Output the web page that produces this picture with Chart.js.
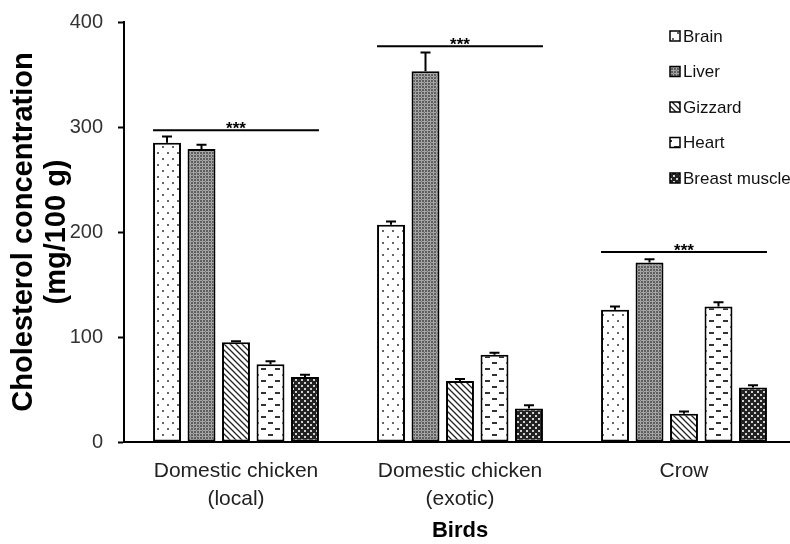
<!DOCTYPE html>
<html>
<head>
<meta charset="utf-8">
<script src="https://cdn.jsdelivr.net/npm/chart.js@4"></script>
<style>
  html, body { margin: 0; padding: 0; background: #fff; overflow: hidden; }
  /* plot runs a few px past the right edge, as in the figure */
  #wrap { width: 796px; height: 544px; }
</style>
</head>
<body>
<div id="wrap"><canvas id="chol"></canvas></div>
<script>
/* data */
const birds = [['Domestic chicken', '(local)'], ['Domestic chicken', '(exotic)'], 'Crow'];
const organs = ['Brain', 'Liver', 'Gizzard', 'Heart', 'Breast muscle'];

const brain = [285, 207, 126];
const liver = [279, 353, 171];
const gizzard = [95, 58, 27];
const heart = [74, 83, 129];
const breastMuscle = [62, 32, 52];

const brainErr = [6, 3, 3];
const liverErr = [4, 18, 3];
const gizzardErr = [1, 2, 2];
const heartErr = [3, 2, 4];
const breastMuscleErr = [2, 3, 2];

const sigLevels = [297, 377, 181];
const sigLabel = '***';
const yTicks = [0, 100, 200, 300, 400];

const FONT = '"Liberation Sans", Arial, sans-serif';

// little tiles for the black & white fills
function makeTile(w, h, paint) {
    const c = document.createElement('canvas');
    c.width = w;
    c.height = h;
    const g = c.getContext('2d');
    paint(g);
    return document.createElement('canvas').getContext('2d').createPattern(c, 'repeat');
}

const patterns = [
    // brain: white, sparse grey dots
    makeTile(10, 12, g => {
        g.fillStyle = '#fff'; g.fillRect(0, 0, 10, 12);
        g.fillStyle = '#666';
        g.fillRect(2, 2, 2, 2);
        g.fillRect(7, 8, 2, 2);
    }),
    // liver: grey plaid
    makeTile(6, 6, g => {
        g.fillStyle = '#5e5e5e'; g.fillRect(0, 0, 6, 6);
        g.fillStyle = '#a6a6a6';
        g.fillRect(0, 1, 6, 1);
        g.fillRect(0, 4, 6, 1);
        g.fillRect(1, 0, 1, 6);
        g.fillRect(4, 0, 1, 6);
        g.fillStyle = '#7c7c7c';
        g.fillRect(1, 1, 1, 1);
        g.fillRect(4, 4, 1, 1);
    }),
    // gizzard: diagonal hatching
    makeTile(6, 6, g => {
        g.fillStyle = '#fff'; g.fillRect(0, 0, 6, 6);
        g.strokeStyle = '#222';
        g.lineWidth = 1.3;
        g.beginPath();
        g.moveTo(-1, -1); g.lineTo(7, 7);
        g.moveTo(-4, 2); g.lineTo(4, 10);
        g.moveTo(2, -4); g.lineTo(10, 4);
        g.stroke();
    }),
    // heart: white with short dashes
    makeTile(14, 12, g => {
        g.fillStyle = '#fff'; g.fillRect(0, 0, 14, 12);
        g.fillStyle = '#333';
        g.fillRect(2, 2, 5, 2);
        g.fillRect(9, 8, 5, 2);
    }),
    // breast muscle: dark with light dots
    makeTile(6, 6, g => {
        g.fillStyle = '#222'; g.fillRect(0, 0, 6, 6);
        g.fillStyle = '#d0d0d0';
        g.fillRect(1, 1, 2, 2);
        g.fillRect(4, 4, 2, 2);
    })
];

const values = [brain, liver, gizzard, heart, breastMuscle];
const errors = [brainErr, liverErr, gizzardErr, heartErr, breastMuscleErr];

// positive error bars only
const errorBars = {
    id: 'errorBars',
    afterDatasetsDraw(chart) {
        const {ctx, scales: {y}} = chart;
        ctx.save();
        ctx.strokeStyle = '#000';
        ctx.lineWidth = 2;
        chart.data.datasets.forEach((ds, di) => {
            const meta = chart.getDatasetMeta(di);
            meta.data.forEach((bar, i) => {
                const top = y.getPixelForValue(ds.data[i] + errors[di][i]);
                ctx.beginPath();
                ctx.moveTo(bar.x, bar.y);
                ctx.lineTo(bar.x, top);
                ctx.moveTo(bar.x - 5, top);
                ctx.lineTo(bar.x + 5, top);
                ctx.stroke();
            });
        });
        ctx.restore();
    }
};

// significance lines over each group + legend inside the plot
const extras = {
    id: 'extras',
    afterDraw(chart) {
        const {ctx, scales: {y}} = chart;
        const first = chart.getDatasetMeta(0).data;
        const last = chart.getDatasetMeta(organs.length - 1).data;
        ctx.save();
        ctx.strokeStyle = '#000';
        ctx.lineWidth = 2;
        ctx.fillStyle = '#000';
        ctx.font = 'bold 17px ' + FONT;
        ctx.textAlign = 'center';
        ctx.textBaseline = 'alphabetic';
        sigLevels.forEach((lvl, i) => {
            const x0 = first[i].x - first[i].width / 2;
            const x1 = last[i].x + last[i].width / 2;
            const py = y.getPixelForValue(lvl);
            ctx.beginPath();
            ctx.moveTo(x0, py);
            ctx.lineTo(x1, py);
            ctx.stroke();
            ctx.fillText(sigLabel, (x0 + x1) / 2, py + 4);
        });

        // legend
        ctx.font = '17px ' + FONT;
        ctx.textAlign = 'left';
        ctx.textBaseline = 'middle';
        ctx.lineWidth = 1.5;
        organs.forEach((name, i) => {
            const cy = 36 + i * 35.5;
            ctx.fillStyle = patterns[i];
            ctx.fillRect(670, cy - 5, 10, 10);
            ctx.strokeRect(670, cy - 5, 10, 10);
            ctx.fillStyle = '#111';
            ctx.fillText(name, 683, cy + 1);
        });
        ctx.restore();
    }
};

const ctx = document.getElementById('chol').getContext('2d');

new Chart(ctx, {
    type: 'bar',
    data: {
        labels: birds,
        datasets: organs.map((name, i) => ({
            label: name,
            data: values[i],
            backgroundColor: patterns[i],
            borderColor: '#000',
            borderWidth: 2,
            borderSkipped: false,
            categoryPercentage: 0.77,
            barPercentage: 0.81
        }))
    },
    options: {
        responsive: true,
        maintainAspectRatio: false,
        animation: false,
        layout: { padding: { top: 22, right: 0, bottom: 0, left: 0 } },
        plugins: {
            legend: { display: false },
            tooltip: { enabled: false }
        },
        scales: {
            x: {
                grid: { display: false },
                border: { display: true, color: '#000', width: 2 },
                ticks: {
                    color: '#222',
                    padding: 8,
                    font: { family: FONT, size: 21, lineHeight: 1.3 }
                },
                title: {
                    display: true,
                    text: 'Birds',
                    color: '#000',
                    padding: { top: 0, bottom: 0 },
                    font: { family: FONT, size: 22, weight: 'bold' }
                },
                afterFit: s => { s.height = 102; }
            },
            y: {
                min: 0,
                max: 400,
                afterBuildTicks: s => { s.ticks = yTicks.map(v => ({ value: v })); },
                grid: {
                    drawOnChartArea: false,
                    drawTicks: true,
                    tickLength: 6,
                    tickWidth: 2,
                    color: '#000'
                },
                border: { display: true, color: '#000', width: 2 },
                ticks: {
                    color: '#333',
                    padding: 15,
                    font: { family: FONT, size: 20 }
                },
                title: {
                    display: true,
                    text: ['Cholesterol concentration', '(mg/100 g)'],
                    color: '#000',
                    padding: { top: 7, bottom: 0 },
                    font: { family: FONT, size: 29, weight: 'bold', lineHeight: 1.15 }
                },
                afterFit: s => { s.width = 124; s.paddingTop = 0; s.paddingBottom = 0; }
            }
        }
    },
    plugins: [errorBars, extras]
});
</script>
</body>
</html>
